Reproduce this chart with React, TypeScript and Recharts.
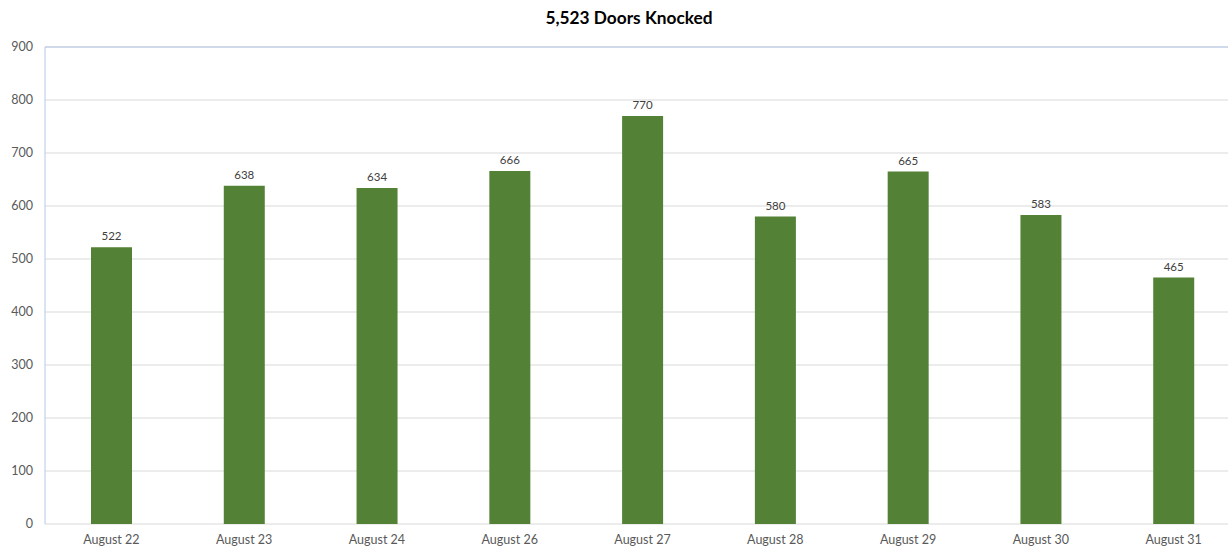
import { BarChart, Bar, XAxis, YAxis, CartesianGrid, LabelList, ReferenceLine } from 'recharts';

const days = ['August 22', 'August 23', 'August 24', 'August 26', 'August 27', 'August 28', 'August 29', 'August 30', 'August 31'];
const doors = [522, 638, 634, 666, 770, 580, 665, 583, 465];
const yTicks = [0, 100, 200, 300, 400, 500, 600, 700, 800, 900];
const boundaryTicks = [0, 1, 2, 3, 4, 5, 6, 7, 8, 9];

const data = days.map((day, i) => ({ day, doors: doors[i] }));
const total = doors.reduce((s, v) => s + v, 0);

const font = 'Lato, "Noto Sans", sans-serif';

export default function App() {
  return (
    <div style={{ position: 'absolute', left: 0, top: 0, width: 1228, height: 548, background: '#fff', fontFamily: font, overflow: 'hidden' }}>
      {/* title sits centred over the full (slightly wider) chart */}
      <div
        style={{
          position: 'absolute',
          top: 7,
          left: 0,
          width: 1258,
          textAlign: 'center',
          fontWeight: 700,
          fontSize: 17.3,
          color: '#000',
        }}
      >
        {total.toLocaleString('en-US')} Doors Knocked
      </div>
      {/* plot area runs a little past the right edge, as in the original */}
      <BarChart
        width={1240}
        height={548}
        data={data}
        margin={{ top: 47, right: 0, left: 0, bottom: 0 }}
        barCategoryGap={0}
      >
        <CartesianGrid vertical={false} stroke="#d9d9d9" />
        <XAxis
          xAxisId="edges"
          type="number"
          domain={[0, 9]}
          ticks={boundaryTicks}
          tick={false}
          tickSize={5}
          tickLine={{ stroke: '#d9d9d9' }}
          axisLine={{ stroke: '#d9d9d9' }}
          height={0}
        />
        <XAxis
          dataKey="day"
          height={24}
          axisLine={false}
          tickLine={false}
          tickSize={0}
          tickMargin={11}
          interval={0}
          tick={{ fontSize: 12.5, fill: '#595959', fontFamily: font }}
        />
        <YAxis
          domain={[0, 900]}
          ticks={yTicks}
          width={45}
          axisLine={{ stroke: '#b4c7e7' }}
          tickLine={false}
          tickSize={0}
          tickMargin={12}
          tick={{ fontSize: 12.5, fill: '#595959', fontFamily: font }}
        />
        <ReferenceLine y={900} stroke="#b4c7e7" />
        <Bar dataKey="doors" fill="#538135" barSize={41} isAnimationActive={false}>
          <LabelList dataKey="doors" position="top" offset={7} style={{ fontSize: 11.5, fill: '#404040', fontFamily: font }} />
        </Bar>
      </BarChart>
    </div>
  );
}
